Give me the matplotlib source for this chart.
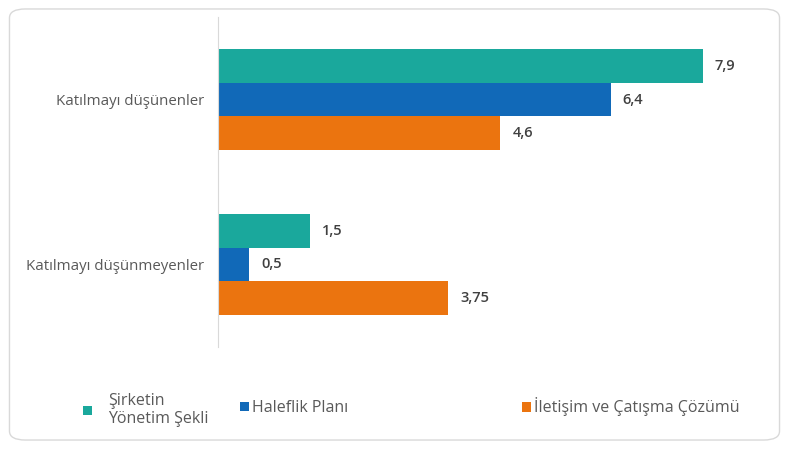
import numpy as np
import matplotlib.pyplot as plt
from matplotlib.patches import FancyBboxPatch, Patch

# data
categories = ["Katılmayı düşünenler", "Katılmayı düşünmeyenler"]
series = ["Şirketin\nYönetim Şekli", "Haleflik Planı", "İletişim ve Çatışma Çözümü"]
values = [
    [7.9, 1.5],
    [6.4, 0.5],
    [4.6, 3.75],
]
value_labels = [
    ["7,9", "1,5"],
    ["6,4", "0,5"],
    ["4,6", "3,75"],
]
colors = ["#1aa89c", "#1169b8", "#eb740f"]

plt.rcParams['font.family'] = ['Open Sans', 'DejaVu Sans']
txt_col = "#595959"

fig = plt.figure(figsize=(7.89, 4.49), dpi=100)

# rounded frame around the whole chart
frame = FancyBboxPatch((0.012, 0.02), 0.976, 0.96, boxstyle="round,pad=0,rounding_size=0.02",
                       transform=fig.transFigure, facecolor="white", edgecolor="#d9d9d9",
                       linewidth=1.0, zorder=-1)
fig.patches.append(frame)

ax = fig.add_axes([218 / 789, 1 - 347 / 449, (770 - 218) / 789, (347 - 17) / 449])
ax.set_facecolor("none")
ax.set_zorder(1)

y = np.arange(len(categories))
h = 0.205
for i, (vals, labs) in enumerate(zip(values, value_labels)):
    pos = y + (i - 1) * h
    ax.barh(pos, vals, height=h, color=colors[i])
    for p, v, l in zip(pos, vals, labs):
        ax.text(v + 0.2, p, l, va='center', ha='left', fontsize=10.5, color="#404040",
                fontweight='semibold')

ax.set_xlim(0, 9)
ax.set_ylim(1.5, -0.5)
ax.set_yticks(y)
ax.set_yticklabels(categories, fontsize=10.8, color=txt_col)
ax.tick_params(axis='y', length=0, pad=10)
ax.set_xticks([])
for s in ['top', 'right', 'bottom']:
    ax.spines[s].set_visible(False)
ax.spines['left'].set_color("#d9d9d9")

# legend entries placed individually
legend_pos = [(83 / 789, 1 - 410 / 449), (240 / 789, 1 - 408 / 449), (522 / 789, 1 - 407 / 449)]
text_pad = [1.05, 0.2, 0.2]
for lab, c, (lx, ly), tp in zip(series, colors, legend_pos, text_pad):
    leg = fig.legend(handles=[Patch(facecolor=c)], labels=[lab], loc='center left',
                     bbox_to_anchor=(lx, ly), frameon=False, fontsize=11.5,
                     handlelength=0.55, handleheight=0.55, handletextpad=tp,
                     borderpad=0, borderaxespad=0)
    for t in leg.get_texts():
        t.set_color(txt_col)

fig.savefig("out.png", dpi=100)
